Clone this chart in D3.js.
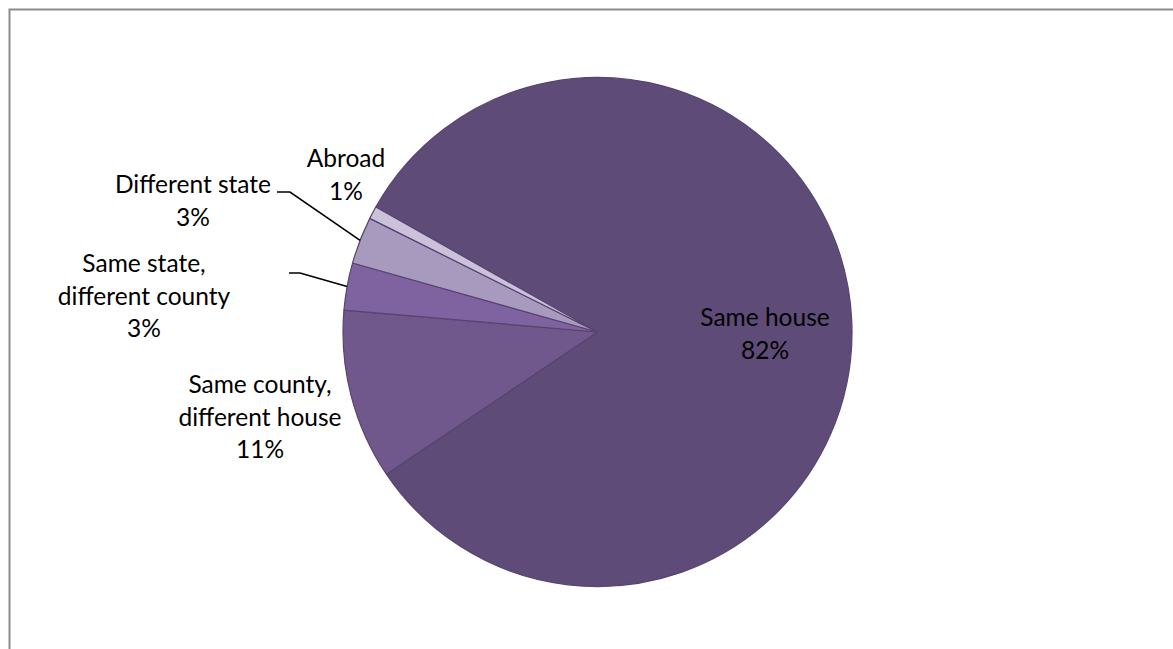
<!DOCTYPE html>
<html><head><meta charset="utf-8">
<script src="https://cdn.jsdelivr.net/npm/d3@7"></script>
<style>body{margin:0;background:#fff} svg{display:block}</style>
</head><body>
<svg id="chart" width="1173" height="649"></svg>
<script>
// Residence one year earlier, share of population
const categories = ["Same house", "Same county, different house", "Same state, different county", "Different state", "Abroad"];
const shares = [82.4, 10.8, 3.0, 3.0, 0.8];
const sliceColors = ["#5f4b78", "#70588d", "#7f63a0", "#a899be", "#cbc1db"];

// Label placement: center x, first baseline y, optional leader [start x, elbow x, y]
const labelLayout = {
  "Same house": {x: 765, y: 326},
  "Same county, different house": {x: 260, y: 393},
  "Same state, different county": {x: 144, y: 272, leader: [289, 300, 273]},
  "Different state": {x: 193, y: 193, leader: [277, 290, 192]},
  "Abroad": {x: 346, y: 167}
};

const W = 1173, H = 649;
const cx = 597.5, cy = 332, R = 254.5;
const lineH = 32.5;
const font = "Lato, 'Open Sans', sans-serif";
const fontSize = 24.5;

const svg = d3.select("#chart");

// frame
svg.append("path")
  .attr("d", `M9.5,${H} V9.5 H${W}`)
  .attr("fill", "none")
  .attr("stroke", "#8c8c8c")
  .attr("stroke-width", 2);

const data = categories.map((c, i) => ({name: c, value: shares[i], color: sliceColors[i]}));

const start = -60.6 * Math.PI / 180;
const pie = d3.pie().value(d => d.value).sort(null)
  .startAngle(start).endAngle(start + 2 * Math.PI);
const arcs = pie(data);
const arc = d3.arc().innerRadius(0).outerRadius(R);

const g = svg.append("g").attr("transform", `translate(${cx},${cy})`);
g.selectAll("path.slice").data(arcs).join("path")
  .attr("class", "slice")
  .attr("d", arc)
  .attr("fill", d => d.data.color)
  .attr("stroke", "#574470")
  .attr("stroke-width", 1.2)
  .attr("stroke-linejoin", "round");

const pct = d3.format(".0f");

arcs.forEach(a => {
  const L = labelLayout[a.data.name];
  const parts = a.data.name.split(", ");
  const lines = parts.map((p, i) => i < parts.length - 1 ? p + "," : p);
  lines.push(pct(a.data.value) + "%");
  const t = svg.append("text")
    .attr("text-anchor", "middle")
    .attr("font-family", font)
    .attr("font-size", fontSize)
    .attr("fill", "#000");
  lines.forEach((ln, i) => {
    t.append("tspan").attr("x", L.x).attr("y", L.y + i * lineH).text(ln);
  });
  if (L.leader) {
    const mid = (a.startAngle + a.endAngle) / 2;
    const ex = cx + R * Math.sin(mid), ey = cy - R * Math.cos(mid);
    const [x0, x1, ly] = L.leader;
    svg.append("path")
      .attr("d", `M${x0},${ly} H${x1} L${ex},${ey}`)
      .attr("fill", "none")
      .attr("stroke", "#000")
      .attr("stroke-width", 1.6);
  }
});
</script>
</body></html>
